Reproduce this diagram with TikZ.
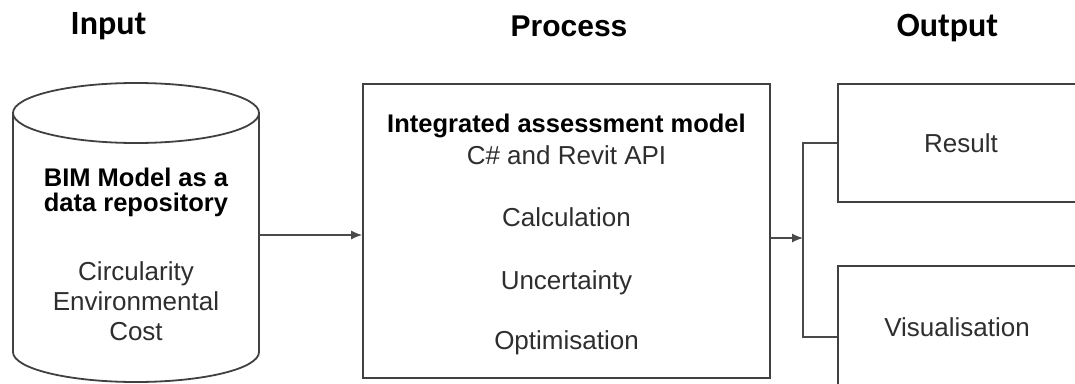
\documentclass[tikz,border=0pt]{standalone}
\usepackage{fontspec}
\setmainfont{Liberation Sans}
\newfontfamily\headfont{Carlito}
\usetikzlibrary{arrows.meta}
\definecolor{linegray}{HTML}{404040}
\definecolor{conngray}{HTML}{4A4A4A}
\definecolor{textgray}{HTML}{2E2E2E}
\tikzset{
  box/.style={draw=linegray, line width=1.8pt, inner sep=0pt},
  conn/.style={draw=conngray, line width=1.2pt},
  arrowconn/.style={conn, -{Latex[length=11pt,width=9pt]}},
  head/.style={font=\headfont\fontsize{34}{40}\selectfont\bfseries, anchor=base, inner sep=0pt},
  headarial/.style={font=\fontsize{30}{36}\selectfont\bfseries, anchor=base, inner sep=0pt},
  title/.style={font=\fontsize{25.5}{30}\selectfont\bfseries, anchor=base, inner sep=0pt},
  body/.style={font=\fontsize{26}{30}\selectfont, text=textgray, anchor=base, inner sep=0pt},
}
\begin{document}
\begin{tikzpicture}[x=1pt,y=1pt]
\useasboundingbox (0,0) rectangle (1075,383);
\clip (0,0) rectangle (1075,383);

% column headings
\node[head] (hin) at (108.5,348) {Input};
\node[headarial] (hproc) at (569,346) {Process};
\node[head] (hout) at (947.5,346) {Output};

% data repository drawn as a cylinder
\node[minimum width=246pt, minimum height=239pt, inner sep=0pt] (repo) at (136,148) {};
\draw[linegray, line width=1.8pt] (136,270) ellipse (123 and 30);
\draw[linegray, line width=1.8pt] (13,270) -- (13,31) arc (180:360:123 and 30) -- (259,270);
\node[title] (repoA) at (136,196) {BIM Model as a};
\node[title] (repoB) at (136,171) {data repository};
\node[body] (repoC) at (136,103) {Circularity};
\node[body] (repoD) at (136,73) {Environmental};
\node[body] (repoE) at (136,43) {Cost};

% integrated assessment model
\node[box, minimum width=407pt, minimum height=294pt] (proc) at (566.5,152) {};
\node[title] (procA) at (566.5,250) {Integrated assessment model};
\node[body] (procB) at (566.5,218) {C\# and Revit API};
\node[body] (procC) at (566.5,157) {Calculation};
\node[body] (procD) at (566.5,94) {Uncertainty};
\node[body] (procE) at (566.5,34) {Optimisation};

% output boxes (open towards the right edge)
\node[box, minimum width=252pt, minimum height=118pt] (res) at (964,240) {};
\node[body] (resT) at (961,230) {Result};
\node[box, minimum width=252pt, minimum height=142pt] (vis) at (964,46) {};
\node[body] (visT) at (957,47) {Visualisation};

% connectors
\coordinate (split) at (803,145);
\draw[arrowconn] (repo.east) -- (repo.east -| proc.west);
\draw[arrowconn] (proc.east |- split) -- (split);
\draw[conn] (res.west) -| (split) |- (vis.west);
\end{tikzpicture}
\end{document}
